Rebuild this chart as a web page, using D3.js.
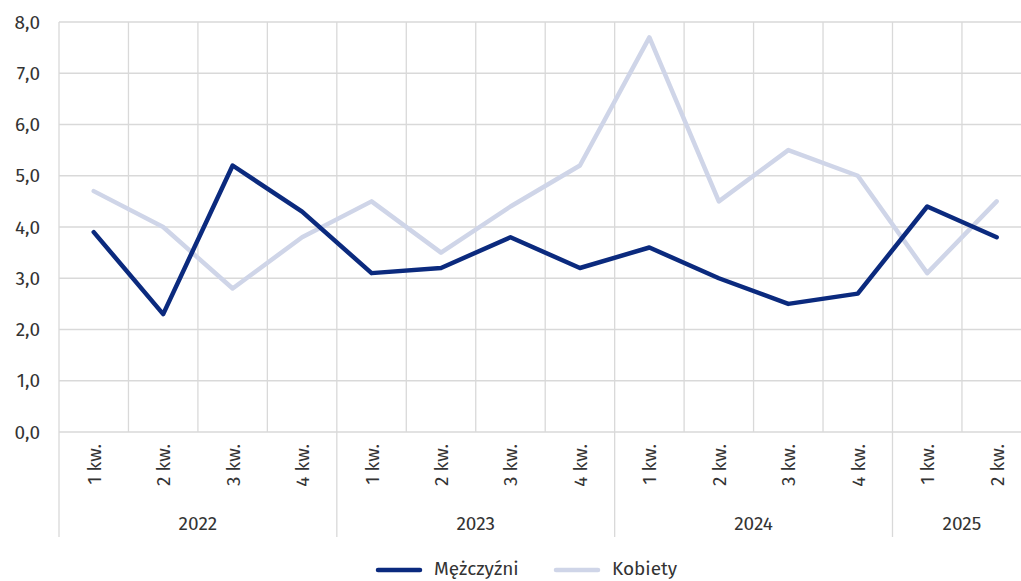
<!DOCTYPE html>
<html><head><meta charset="utf-8">
<script src="https://cdn.jsdelivr.net/npm/d3@7"></script>
<style>body{margin:0;background:#fff}svg{display:block}text{font-family:"Fira Sans","Noto Sans",sans-serif;fill:#333}</style>
</head><body><svg id="c" width="1021" height="581"></svg>
<script>
const years = ["2022","2022","2022","2022","2023","2023","2023","2023","2024","2024","2024","2024","2025","2025"];
const quarters = ["1 kw.","2 kw.","3 kw.","4 kw.","1 kw.","2 kw.","3 kw.","4 kw.","1 kw.","2 kw.","3 kw.","4 kw.","1 kw.","2 kw."];
const men = [3.9,2.3,5.2,4.3,3.1,3.2,3.8,3.2,3.6,3.0,2.5,2.7,4.4,3.8];
const women = [4.7,4.0,2.8,3.8,4.5,3.5,4.4,5.2,7.7,4.5,5.5,5.0,3.1,4.5];
const yTicks = [0,1,2,3,4,5,6,7,8];
const seriesNames = ["Mężczyźni","Kobiety"];
const colors = ["#0b2a7e","#cfd5e8"];

(function(){
const svg = d3.select("#c");
const pL = 59, pR = 1031.4, pT = 22, pB = 432;
const fs = 19;
const idx = d3.range(quarters.length);
const x = d3.scaleBand().domain(idx).range([pL,pR]).padding(0);
const y = d3.scaleLinear().domain([0,8]).range([pB,pT]);
const grid = "#d9d9d9";

svg.append("g").selectAll("line").data(yTicks).join("line")
  .attr("x1",pL).attr("x2",pR).attr("y1",d=>y(d)).attr("y2",d=>y(d))
  .attr("stroke",grid).attr("stroke-width",1.3);
svg.append("g").selectAll("line").data(idx).join("line")
  .attr("x1",d=>x(d)).attr("x2",d=>x(d)).attr("y1",pT).attr("y2",pB)
  .attr("stroke",grid).attr("stroke-width",1.3);
const fmt = d => d3.format(".1f")(d).replace(".",",");
svg.append("g").selectAll("text").data(yTicks).join("text")
  .attr("x",40).attr("y",d=>y(d)).attr("dy","0.35em").attr("text-anchor","end")
  .attr("font-size",fs).text(fmt);
svg.append("g").selectAll("text").data(idx).join("text")
  .attr("transform",d=>`translate(${x(d)+x.bandwidth()/2+7},444) rotate(-90)`)
  .attr("text-anchor","end").attr("font-size",fs).text(d=>quarters[d]);
const groups = d3.groups(idx, d=>years[d]);
const seps = groups.map(g=>g[1][0]);
svg.append("g").selectAll("line").data(seps).join("line")
  .attr("x1",d=>x(d)).attr("x2",d=>x(d)).attr("y1",pB).attr("y2",537)
  .attr("stroke",grid).attr("stroke-width",1.3);
svg.append("g").selectAll("text").data(groups).join("text")
  .attr("x",g=>(x(g[1][0])+x(g[1][g[1].length-1])+x.bandwidth())/2)
  .attr("y",530).attr("text-anchor","middle").attr("font-size",fs).text(g=>g[0]);
const line = d3.line().x((d,i)=>x(i)+x.bandwidth()/2).y(d=>y(d));
[women,men].forEach((s,k)=>{
  const c = k===0?colors[1]:colors[0];
  svg.append("path").datum(s).attr("d",line).attr("fill","none")
    .attr("stroke",c).attr("stroke-width",4.5).attr("stroke-linejoin","round").attr("stroke-linecap","round");
});
const legX = [378,556];
seriesNames.forEach((n,i)=>{
  svg.append("line").attr("x1",legX[i]).attr("x2",legX[i]+42).attr("y1",570).attr("y2",570)
    .attr("stroke",colors[i]).attr("stroke-width",4.5).attr("stroke-linecap","round");
  svg.append("text").attr("x",legX[i]+56).attr("y",575).attr("font-size",fs).text(n);
});
})();
</script></body></html>
